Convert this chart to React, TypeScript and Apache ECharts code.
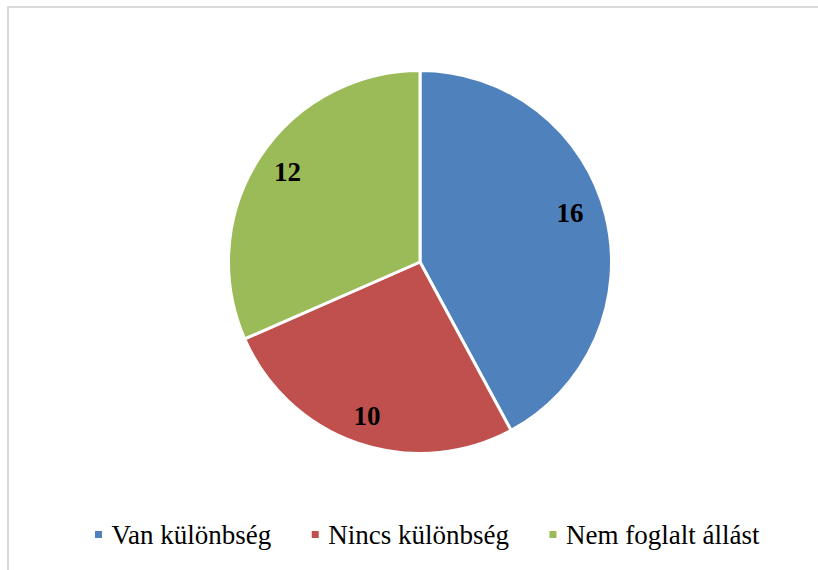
import React, { useEffect, useRef } from "react";
import * as echarts from "echarts";

const categories = ["Van különbség", "Nincs különbség", "Nem foglalt állást"];
const values = [16, 10, 12];
const colors = ["#4F81BD", "#C0504D", "#9BBB59"];

const FONT = "Liberation Serif";
const labelOffsets: [number, number][] = [[-8, -9], [0, 0], [4, -1]];

export default function App() {
  const ref = useRef<HTMLDivElement>(null);
  useEffect(() => {
    if (!ref.current) return;
    const chart = echarts.init(ref.current, undefined, { renderer: "svg" });
    const data = categories.map((name, i) => ({
      name,
      value: values[i],
      itemStyle: { color: colors[i] },
    }));
    const legendText = { fontFamily: FONT, fontSize: 27, color: "#000000" };
    chart.setOption({
      animation: false,
      backgroundColor: "#ffffff",
      textStyle: { fontFamily: FONT },
      graphic: [
        {
          type: "rect",
          shape: { x: 8, y: 7, width: 900, height: 900 },
          style: { fill: "none", stroke: "#d9d9d9", lineWidth: 2 },
          silent: true,
        },
      ],
      legend: {
        data: categories.map((name) => ({ name, textStyle: legendText })),
        left: 88,
        top: 516,
        itemWidth: 16,
        itemHeight: 9,
        itemGap: 38.5,
        icon: "path://M0,0H10V10H0Z",
        selectedMode: false,
        textStyle: legendText,
      },
      series: [
        {
          type: "pie",
          center: [420, 262],
          radius: [0, 191.5],
          startAngle: 90,
          clockwise: true,
          label: { show: false },
          labelLine: { show: false },
          itemStyle: { borderColor: "#ffffff", borderWidth: 3 },
          emphasis: { disabled: true },
          data,
        },
        {
          type: "pie",
          center: [420, 262],
          radius: [130, 190],
          startAngle: 90,
          clockwise: true,
          silent: true,
          legendHoverLink: false,
          itemStyle: { color: "rgba(0,0,0,0)", borderWidth: 0 },
          label: {
            show: true,
            position: "inside",
            formatter: "{c}",
            fontFamily: FONT,
            fontWeight: "bold",
            fontSize: 27,
            color: "#000000",
          },
          labelLine: { show: false },
          emphasis: { disabled: true },
          data: categories.map((name, i) => ({
            name,
            value: values[i],
            label: { offset: labelOffsets[i] },
          })),
        },
      ],
    });
    return () => chart.dispose();
  }, []);
  return (
    <div
      ref={ref}
      style={{ position: "absolute", left: 0, top: 0, width: 818, height: 570 }}
    />
  );
}
